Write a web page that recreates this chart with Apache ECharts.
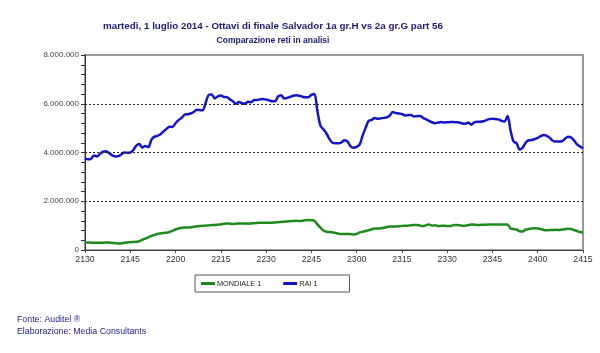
<!DOCTYPE html>
<html>
<head>
<meta charset="utf-8">
<script src="https://cdn.jsdelivr.net/npm/echarts@6/dist/echarts.min.js"></script>
<style>
  html, body { margin: 0; padding: 0; background: #fff; }
  #chart { width: 600px; height: 353px; }
</style>
</head>
<body>
<div id="chart"></div>
<script>
// minutes 21:30 -> 24:15, one value per minute
const minutes = [];
for (let m = 0; m <= 165; m++) {
  const t = 21 * 60 + 30 + m;
  const h = Math.floor(t / 60), mm = t % 60;
  minutes.push(String(h) + String(mm).padStart(2, '0'));
}

const mondiale1 = [
  310000, 310000, 300000, 300000, 300000, 300000, 300000, 310000, 310000, 290000,
  280000, 270000, 270000, 300000, 310000, 320000, 330000, 340000, 360000, 420000,
  470000, 520000, 580000, 620000, 660000, 680000, 700000, 710000, 740000, 790000,
  840000, 880000, 910000, 920000, 920000, 930000, 950000, 970000, 980000, 990000,
  1000000, 1010000, 1030000, 1030000, 1040000, 1050000, 1080000, 1090000, 1080000, 1070000,
  1080000, 1090000, 1090000, 1090000, 1080000, 1090000, 1100000, 1110000, 1120000, 1120000,
  1120000, 1120000, 1120000, 1130000, 1140000, 1150000, 1160000, 1170000, 1180000, 1190000,
  1200000, 1190000, 1200000, 1220000, 1230000, 1220000, 1200000, 1050000, 920000, 800000,
  750000, 740000, 720000, 700000, 670000, 660000, 660000, 660000, 650000, 640000,
  660000, 720000, 750000, 780000, 810000, 850000, 880000, 880000, 890000, 910000,
  940000, 960000, 960000, 960000, 970000, 990000, 1000000, 1000000, 1020000, 1030000,
  1030000, 1000000, 980000, 1020000, 1050000, 1000000, 1020000, 980000, 990000, 1000000,
  980000, 980000, 1020000, 1030000, 1020000, 1000000, 1000000, 1020000, 1050000, 1040000,
  1030000, 1030000, 1040000, 1040000, 1050000, 1050000, 1050000, 1050000, 1050000, 1050000,
  1050000, 880000, 860000, 840000, 770000, 760000, 840000, 860000, 880000, 890000,
  880000, 860000, 820000, 810000, 820000, 820000, 830000, 820000, 840000, 850000,
  870000, 860000, 820000, 780000, 740000, 720000
];

const rai1 = [
  3760000, 3720000, 3740000, 3880000, 3840000, 3950000, 4030000, 4050000, 3970000, 3880000,
  3840000, 3850000, 3920000, 4000000, 3990000, 4000000, 4100000, 4280000, 4350000, 4200000,
  4270000, 4220000, 4520000, 4650000, 4680000, 4750000, 4860000, 4970000, 5060000, 5050000,
  5200000, 5330000, 5420000, 5550000, 5570000, 5600000, 5660000, 5750000, 5740000, 5730000,
  6050000, 6360000, 6380000, 6220000, 6300000, 6340000, 6280000, 6270000, 6180000, 6100000,
  6000000, 6070000, 6020000, 6000000, 6080000, 6060000, 6150000, 6150000, 6180000, 6200000,
  6170000, 6140000, 6100000, 6100000, 6300000, 6350000, 6220000, 6240000, 6280000, 6330000,
  6350000, 6330000, 6290000, 6270000, 6270000, 6360000, 6400000, 5700000, 5100000, 4950000,
  4780000, 4550000, 4400000, 4380000, 4380000, 4420000, 4500000, 4450000, 4250000, 4200000,
  4230000, 4330000, 4700000, 5020000, 5300000, 5340000, 5420000, 5380000, 5400000, 5420000,
  5440000, 5520000, 5660000, 5620000, 5600000, 5580000, 5520000, 5530000, 5540000, 5480000,
  5490000, 5500000, 5420000, 5360000, 5300000, 5240000, 5200000, 5230000, 5250000, 5230000,
  5240000, 5250000, 5250000, 5240000, 5230000, 5190000, 5180000, 5230000, 5140000, 5240000,
  5260000, 5260000, 5280000, 5330000, 5370000, 5380000, 5370000, 5360000, 5300000, 5270000,
  5500000, 4900000, 4450000, 4380000, 4120000, 4200000, 4400000, 4500000, 4510000, 4550000,
  4600000, 4670000, 4720000, 4680000, 4600000, 4480000, 4450000, 4450000, 4460000, 4560000,
  4650000, 4620000, 4500000, 4330000, 4250000, 4170000
];

const seriesNames = ['MONDIALE 1', 'RAI 1'];
const seriesColors = ['#1e8a1e', '#1414c8'];
const gridLevels = [2000000, 4000000, 6000000];

const fmt = v => String(v).replace(/\B(?=(\d{3})+(?!\d))/g, '.');

const chart = echarts.init(document.getElementById('chart'));
chart.setOption({
  backgroundColor: '#fff',
  animation: false,
  title: [{
    text: 'martedì, 1 luglio 2014 - Ottavi di finale Salvador 1a gr.H vs 2a gr.G part 56',
    subtext: 'Comparazione reti in analisi',
    left: 268, top: 16, textAlign: 'center', itemGap: 5,
    textStyle: { fontFamily: 'Liberation Sans', fontSize: 9.8, fontWeight: 'bold', color: '#1c1c78' },
    subtextStyle: { fontFamily: 'Liberation Sans', fontSize: 8.5, fontWeight: 'bold', color: '#1c1c78' }
  }],
  legend: {
    data: seriesNames,
    left: 195, top: 275, height: 18,
    padding: [5, 32, 5, 6],
    itemGap: 22, itemWidth: 14, itemHeight: 3,
    borderColor: '#555', borderWidth: 1,
    icon: 'rect',
    textStyle: { fontFamily: 'Liberation Sans', fontSize: 7.3, color: '#222', padding: [0, 0, 0, -3] }
  },
  graphic: [
    { type: 'text', left: 17, top: 315,
      style: { text: 'Fonte: Auditel ®', fontFamily: 'Liberation Sans', fontSize: 8.8, fill: '#1c1c8c' } },
    { type: 'text', left: 17, top: 327,
      style: { text: 'Elaborazione: Media Consultants', fontFamily: 'Liberation Sans', fontSize: 8.8, fill: '#1c1c8c' } }
  ],
  grid: {
    left: 85, right: 17, top: 55, bottom: 103,
    show: true, borderColor: '#999', borderWidth: 2
  },
  xAxis: {
    type: 'category',
    data: minutes,
    boundaryGap: false,
    axisLine: { lineStyle: { color: '#444', width: 1 } },
    axisTick: { interval: 14, length: 3, lineStyle: { color: '#444' } },
    axisLabel: { interval: 14, fontFamily: 'Liberation Sans', fontSize: 8.7, color: '#333', margin: 5 },
    splitLine: { show: false }
  },
  yAxis: {
    type: 'value',
    min: 0, max: 8000000, interval: 2000000,
    axisLine: { show: true, lineStyle: { color: '#333', width: 1 } },
    axisTick: { show: true, length: 4, lineStyle: { color: '#333' } },
    minorTick: { show: true, splitNumber: 5, length: 4, lineStyle: { color: '#333' } },
    axisLabel: { fontFamily: 'Liberation Sans', fontSize: 8, color: '#444', margin: 6, formatter: fmt },
    splitLine: { show: false }
  },
  series: [
    { name: seriesNames[0], type: 'line', data: mondiale1, symbol: 'none', smooth: 0.3, z: 3,
      lineStyle: { width: 2.5, color: seriesColors[0] }, itemStyle: { color: seriesColors[0] },
      markLine: {
        silent: true, symbol: 'none', label: { show: false }, animation: false,
        lineStyle: { color: '#222', type: [2, 2], width: 1 },
        data: gridLevels.map(v => ({ yAxis: v }))
      } },
    { name: seriesNames[1], type: 'line', data: rai1, symbol: 'none', smooth: 0.3, z: 3,
      lineStyle: { width: 2.5, color: seriesColors[1] }, itemStyle: { color: seriesColors[1] } }
  ]
});
</script>
</body>
</html>
